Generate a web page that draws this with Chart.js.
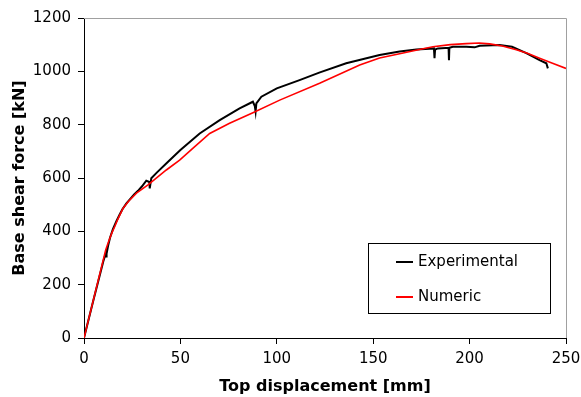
<!DOCTYPE html>
<html>
<head>
<meta charset="utf-8">
<script src="https://cdn.jsdelivr.net/npm/chart.js@4.4.0/dist/chart.umd.min.js"></script>
<style>
  html, body { margin: 0; padding: 0; background: #fff; }
  #wrap { width: 581px; height: 397px; }
</style>
</head>
<body>
<div id="wrap"><canvas id="c" width="581" height="397"></canvas></div>
<script>
// ---- Data ----
const expX = [0, 5, 10, 11.3, 11.5, 11.7, 12.5, 13.5, 15, 16.8, 18.5, 20, 22, 24, 26, 28, 30, 32.3, 33.9, 34.1, 34.4, 34.9, 38, 43.6, 50, 60, 70.4, 80.7, 87.6, 88.6, 89, 89.4, 92, 100, 111.8, 122, 136, 153.3, 163.7, 172.4, 181.5, 181.8, 182.1, 183.6, 189.1, 189.3, 189.5, 191.3, 198.3, 202.6, 205.2, 215.5, 222, 229.4, 236.3, 239.8, 240.6];
const expY = [0, 145, 287, 318, 306, 316, 346, 376, 408, 438, 463, 484, 505, 522, 538, 552, 568, 590, 585, 561, 575, 599, 622, 661, 705, 767, 817, 861, 886, 870, 849, 880, 905, 936, 967, 995, 1030, 1061, 1074, 1082, 1086, 1049, 1082, 1086, 1088, 1042, 1088, 1092, 1092, 1090, 1096, 1099, 1092, 1068, 1042, 1030, 1011];
const numX = [0, 11.25, 12.5, 13.3, 14.5, 15.9, 17.5, 20.2, 23, 27.2, 33.2, 42.7, 49.6, 57, 65.2, 75.5, 87.6, 101.5, 122.2, 143, 153.3, 163.7, 174, 181, 190, 198.3, 205, 210.4, 217, 224.2, 230, 236.3, 243, 250];
const numY = [0, 330, 356, 372, 395, 417, 445, 486, 512, 543, 574, 630, 667, 715, 767, 805, 845, 892, 955, 1024, 1050, 1066, 1082, 1092, 1100, 1104, 1106, 1103, 1095, 1081, 1068, 1049, 1030, 1011];
const seriesNames = ["Experimental", "Numeric"];
const xTitle = "Top displacement [mm]";
const yTitle = "Base shear force [kN]";

const toPts = (xs, ys) => xs.map((x, i) => ({ x: x, y: ys[i] }));

const FONT = "'DejaVu Sans', Verdana, sans-serif";

const framePlugin = {
  id: 'frame',
  beforeDatasetsDraw(chart) {
    const { ctx, chartArea: a } = chart;
    ctx.save();
    ctx.strokeStyle = '#a0a0a0';
    ctx.lineWidth = 1;
    ctx.beginPath();
    ctx.moveTo(a.left, a.top + 0.5);
    ctx.lineTo(a.right + 0.5, a.top + 0.5);
    ctx.lineTo(a.right + 0.5, a.bottom);
    ctx.stroke();
    ctx.restore();
  },
  afterDraw(chart) {
    const { ctx, chartArea: a } = chart;
    const bx = a.left + 284, by = a.top + 225, bw = 182, bh = 70;
    ctx.save();
    ctx.fillStyle = '#fff';
    ctx.fillRect(bx, by, bw, bh);
    ctx.strokeStyle = '#000';
    ctx.lineWidth = 1;
    ctx.strokeRect(bx + 0.5, by + 0.5, bw, bh);
    ctx.font = "15px " + FONT;
    ctx.textBaseline = 'middle';
    ctx.textAlign = 'left';
    chart.data.datasets.forEach((ds, i) => {
      const y = by + 19 + i * 35;
      ctx.strokeStyle = ds.borderColor;
      ctx.lineWidth = 2;
      ctx.beginPath();
      ctx.moveTo(bx + 28, y);
      ctx.lineTo(bx + 45, y);
      ctx.stroke();
      ctx.fillStyle = '#000';
      ctx.fillText(ds.label, bx + 50, y);
    });
    ctx.restore();
  }
};

new Chart(document.getElementById('c'), {
  type: 'scatter',
  data: {
    datasets: [
      { label: seriesNames[0], data: toPts(expX, expY), showLine: true, borderColor: '#000000', backgroundColor: '#000000', borderWidth: 2, pointRadius: 0, tension: 0, order: 2 },
      { label: seriesNames[1], data: toPts(numX, numY), showLine: true, borderColor: '#ff0000', backgroundColor: '#ff0000', borderWidth: 1.6, pointRadius: 0, tension: 0, order: 1 }
    ]
  },
  options: {
    responsive: false,
    animation: false,
    events: [],
    layout: { padding: { left: 0, top: 18, right: 15, bottom: 0 } },
    plugins: { legend: { display: false }, tooltip: { enabled: false } },
    scales: {
      x: {
        type: 'linear', min: 0, max: 250,
        ticks: { stepSize: 50, color: '#000', padding: 6, font: { family: FONT, size: 15 }, maxRotation: 0, callback: v => String(v) },
        grid: { drawOnChartArea: false, drawTicks: true, tickLength: 6, color: '#000' },
        border: { color: '#000', width: 1 },
        title: { display: true, text: xTitle, color: '#000', font: { family: FONT, size: 16, weight: 'bold' }, padding: { top: 0, bottom: 1 } },
        afterFit(s) { s.height = 59; s.paddingLeft = 0; s.paddingRight = 0; }
      },
      y: {
        type: 'linear', min: 0, max: 1200,
        ticks: { stepSize: 200, color: '#000', padding: 7, font: { family: FONT, size: 15 }, callback: v => String(v) },
        grid: { drawOnChartArea: false, drawTicks: true, tickLength: 6, color: '#000' },
        border: { color: '#000', width: 1 },
        title: { display: true, text: yTitle, color: '#000', font: { family: FONT, size: 16, weight: 'bold' }, padding: { top: 10, bottom: 0 } },
        afterFit(s) { s.width = 84; s.paddingTop = 0; s.paddingBottom = 0; }
      }
    }
  },
  plugins: [framePlugin]
});
</script>
</body>
</html>
